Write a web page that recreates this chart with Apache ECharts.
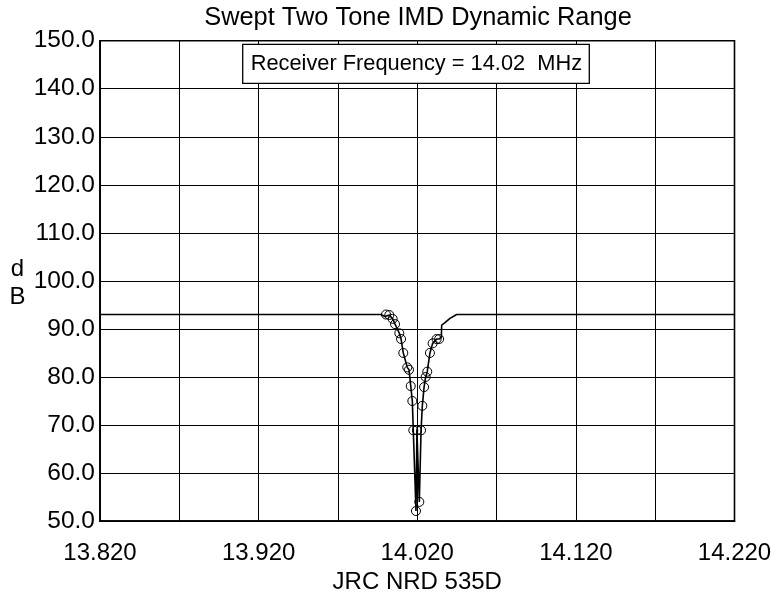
<!DOCTYPE html>
<html>
<head>
<meta charset="utf-8">
<script src="https://cdn.jsdelivr.net/npm/echarts@6/dist/echarts.min.js"></script>
<style>
html,body{margin:0;padding:0;background:#fff;}
#chart{width:778px;height:599px;}
</style>
</head>
<body>
<div id="chart"></div>
<script>
// ---- data ----
var titleText = 'Swept Two Tone IMD Dynamic Range';
var boxText = 'Receiver Frequency = 14.02  MHz';
var xName = 'JRC NRD 535D';
var yName = 'd\nB';
var xMin = 13.820, xMax = 14.220, xStep = 0.05;
var yMin = 50, yMax = 150, yStep = 10;

// trace without markers (left flat part)
var leftF  = [13.820, 13.9971, 13.9996];
var leftDb = [93.0,   93.0,    92.6];
// measured points (circle markers)
var markF  = [14.0003, 14.0024, 14.0045, 14.0060, 14.0087, 14.0098, 14.0112, 14.0137, 14.0148, 14.0159, 14.0169, 14.0175,
              14.0192, 14.0198, 14.0213, 14.0224, 14.0232, 14.0243, 14.0253, 14.0263, 14.0280, 14.0297, 14.0322, 14.0338];
var markDb = [93.0, 92.9, 92.1, 91.0, 89.1, 87.9, 85.0, 82.0, 81.5, 78.1, 75.0, 68.9,
              52.1, 68.9, 54.0, 68.9, 74.0, 77.9, 80.0, 81.1, 85.0, 87.0, 87.9, 87.9];
// trace without markers (right part)
var rightF  = [14.0352, 14.0354, 14.0375, 14.0406, 14.0427, 14.0448, 14.220];
var rightDb = [88.3,    90.8,    91.3,    92.2,    92.6,    93.0,    93.0];

// ---- build ----
var FONT = '"Liberation Sans", Arial, Helvetica, sans-serif';
function off(f){ return +(f - xMin).toFixed(6); }
var data = [];
leftF.forEach(function(f,i){ data.push({value:[off(f), leftDb[i]], symbol:'none'}); });
markF.forEach(function(f,i){ data.push({value:[off(f), markDb[i]]}); });
rightF.forEach(function(f,i){ data.push({value:[off(f), rightDb[i]], symbol:'none'}); });

var chart = echarts.init(document.getElementById('chart'), null, {renderer:'canvas'});
var option = {
  animation: false,
  backgroundColor: '#fff',
  grid: {left: 100, top: 40.7, right: 43.5, bottom: 74.7, show: true, borderColor: '#000', borderWidth: 1.6, backgroundColor: 'transparent'},
  xAxis: {
    type: 'value', min: 0, max: +(xMax - xMin).toFixed(6), interval: xStep,
    name: xName, nameLocation: 'middle', nameGap: 48,
    nameTextStyle: {color: '#000', fontSize: 24, fontFamily: FONT},
    axisLine: {show: true, lineStyle: {color: '#000', width: 1.6}},
    axisTick: {show: false},
    axisLabel: {
      color: '#000', fontSize: 24, fontFamily: FONT, margin: 20,
      formatter: function(v){ var k = Math.round(v / xStep); return (k % 2 === 0) ? (xMin + v).toFixed(3) : ''; }
    },
    splitLine: {show: true, lineStyle: {color: '#000', width: 1}}
  },
  yAxis: {
    type: 'value', min: yMin, max: yMax, interval: yStep,
    axisLine: {show: true, lineStyle: {color: '#000', width: 1.6}},
    axisTick: {show: false},
    axisLabel: {color: '#000', fontSize: 24.5, fontFamily: FONT, margin: 5, formatter: function(v){ return v.toFixed(1); }},
    splitLine: {show: true, lineStyle: {color: '#000', width: 1}}
  },
  series: [{
    type: 'line', data: data,
    symbol: 'circle', symbolSize: 9, showSymbol: true,
    lineStyle: {color: '#000', width: 1.6},
    itemStyle: {color: 'rgba(0,0,0,0)', borderColor: '#000', borderWidth: 1},
    z: 5
  }],
  graphic: [
    {type: 'text', x: 418, y: 18, style: {text: titleText, fill: '#000', font: '25.4px ' + FONT, textAlign: 'center', textVerticalAlign: 'middle'}},
    {type: 'rect', x: 242.7, y: 44.3, shape: {x: 0, y: 0, width: 346.6, height: 39}, style: {fill: '#fff', stroke: '#000', lineWidth: 1.3}, z: 10},
    {type: 'text', x: 250.7, y: 64, style: {text: boxText, fill: '#000', font: '21.8px ' + FONT, textAlign: 'left', textVerticalAlign: 'middle'}, z: 11},
    {type: 'text', x: 17.5, y: 283, style: {text: yName, fill: '#000', font: '24px ' + FONT, lineHeight: 28, textAlign: 'center', textVerticalAlign: 'middle'}}
  ]
};
chart.setOption(option);
</script>
</body>
</html>
